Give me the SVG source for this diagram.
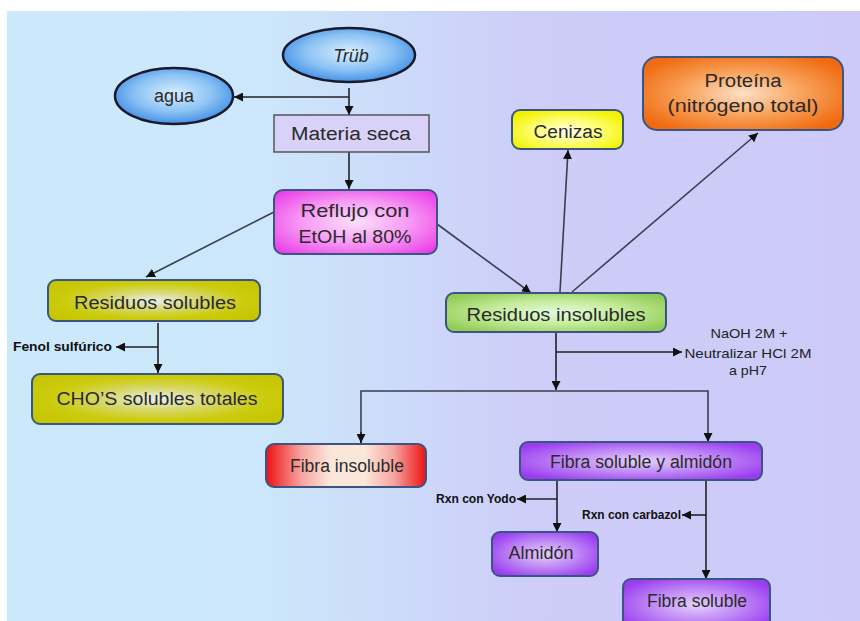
<svg xmlns="http://www.w3.org/2000/svg" width="860" height="621" viewBox="0 0 860 621">
  <defs>
    <linearGradient id="bg" x1="0" y1="0" x2="1" y2="0">
      <stop offset="0" stop-color="#cce9fb"/>
      <stop offset="0.3" stop-color="#cce7fb"/>
      <stop offset="0.62" stop-color="#cdcdf8"/>
      <stop offset="1" stop-color="#cdcaf8"/>
    </linearGradient>
    <radialGradient id="gBlue" cx="0.5" cy="0.45" r="0.6">
      <stop offset="0" stop-color="#d8eeff"/>
      <stop offset="0.55" stop-color="#8cc2f4"/>
      <stop offset="1" stop-color="#3486e4"/>
    </radialGradient>
    <radialGradient id="gPink" cx="0.5" cy="0.5" r="0.65">
      <stop offset="0" stop-color="#fbe0fb"/>
      <stop offset="0.5" stop-color="#f79cf5"/>
      <stop offset="1" stop-color="#ea3fe8"/>
    </radialGradient>
    <radialGradient id="gOlive" cx="0.5" cy="0.5" r="0.6">
      <stop offset="0" stop-color="#e6f0ee"/>
      <stop offset="0.35" stop-color="#d8d870"/>
      <stop offset="0.7" stop-color="#cccc10"/>
      <stop offset="1" stop-color="#c6c600"/>
    </radialGradient>
    <radialGradient id="gGreen" cx="0.5" cy="0.5" r="0.6">
      <stop offset="0" stop-color="#e4fae0"/>
      <stop offset="0.5" stop-color="#c4ec9c"/>
      <stop offset="1" stop-color="#94cc58"/>
    </radialGradient>
    <radialGradient id="gYellow" cx="0.5" cy="0.55" r="0.6">
      <stop offset="0" stop-color="#fffff0"/>
      <stop offset="0.45" stop-color="#ffff80"/>
      <stop offset="1" stop-color="#f2f200"/>
    </radialGradient>
    <radialGradient id="gOrange" cx="0.5" cy="0.5" r="0.6">
      <stop offset="0" stop-color="#fce0c8"/>
      <stop offset="0.5" stop-color="#f8a25a"/>
      <stop offset="1" stop-color="#f06a10"/>
    </radialGradient>
    <linearGradient id="gRed" x1="0" y1="0" x2="1" y2="0">
      <stop offset="0" stop-color="#ee1010"/>
      <stop offset="0.22" stop-color="#f6a4a0"/>
      <stop offset="0.4" stop-color="#fbe6da"/>
      <stop offset="0.62" stop-color="#fbe6da"/>
      <stop offset="0.8" stop-color="#f6a4a0"/>
      <stop offset="1" stop-color="#ee1010"/>
    </linearGradient>
    <radialGradient id="gPurple" cx="0.5" cy="0.5" r="0.6">
      <stop offset="0" stop-color="#e4d0fb"/>
      <stop offset="0.5" stop-color="#c08af6"/>
      <stop offset="1" stop-color="#9a3cf0"/>
    </radialGradient>
    <marker id="arr" viewBox="0 0 10 10" refX="10" refY="5" markerWidth="9" markerHeight="9" markerUnits="userSpaceOnUse" orient="auto">
      <path d="M0,0 L10,5 L0,10 Z" fill="#111"/>
    </marker>
    <style>
      .box { stroke: #3a5584; stroke-width: 2; }
      .ell { stroke: #1a1a2a; stroke-width: 2.5; fill: url(#gBlue); }
      .lbl { font-family: "Liberation Sans", Arial, sans-serif; font-size: 18px; fill: #2a2a2a; text-anchor: middle; }
      .note { font-family: "Liberation Sans", Arial, sans-serif; font-size: 12px; font-weight: bold; fill: #111; }
      .note2 { font-family: "Liberation Sans", Arial, sans-serif; font-size: 13px; fill: #222; text-anchor: middle; }
      .ln { stroke: #222; stroke-width: 1.6; fill: none; }
      .lnd { stroke: #3c3c50; stroke-width: 1.6; fill: none; }
    </style>
  </defs>

  <!-- page background -->
  <rect x="0" y="0" width="860" height="621" fill="#ffffff"/>
  <rect x="7" y="11" width="853" height="610" fill="url(#bg)"/>

  <!-- connectors -->
  <g id="connectors">
    <path class="ln" d="M349,88 V115" marker-end="url(#arr)"/>
    <path class="ln" d="M349,97 H234" marker-end="url(#arr)"/>
    <path class="ln" d="M349,152 V189" marker-end="url(#arr)"/>
    <path class="lnd" d="M274,212 L146,277" marker-end="url(#arr)"/>
    <path class="lnd" d="M437,224 L531,293" marker-end="url(#arr)"/>
    <path class="ln" d="M158,323 V373" marker-end="url(#arr)"/>
    <path class="ln" d="M158,347 H116" marker-end="url(#arr)"/>
    <path class="lnd" d="M560,292 L568,150" marker-end="url(#arr)"/>
    <path class="lnd" d="M572,292 L758,133" marker-end="url(#arr)"/>
    <path class="ln" d="M556,333 V390" marker-end="url(#arr)"/>
    <path class="ln" d="M556,352 H682" marker-end="url(#arr)"/>
    <path class="lnd" d="M361,443 V391 H708 V442" marker-end="url(#arr)"/>
    <path class="ln" d="M361,432 V443" marker-end="url(#arr)"/>
    <path class="ln" d="M557,481 V532" marker-end="url(#arr)"/>
    <path class="ln" d="M557,499 H517" marker-end="url(#arr)"/>
    <path class="ln" d="M706,481 V579" marker-end="url(#arr)"/>
    <path class="ln" d="M706,515 H682" marker-end="url(#arr)"/>
  </g>

  <g id="trub">
    <ellipse class="ell" cx="349" cy="55" rx="66" ry="27"/>
    <text class="lbl" x="351" y="62" font-style="italic">Trüb</text>
  </g>

  <g id="agua">
    <ellipse class="ell" cx="174" cy="96" rx="59" ry="28"/>
    <text class="lbl" x="174" y="102">agua</text>
  </g>

  <g id="materia-seca">
    <rect x="274" y="115" width="155" height="37" fill="#d8d2f8" stroke="#555" stroke-width="1.5"/>
    <text class="lbl" x="351" y="140" textLength="120" lengthAdjust="spacingAndGlyphs">Materia seca</text>
  </g>

  <g id="reflujo">
    <rect class="box" x="274" y="190" width="163" height="64" rx="9" fill="url(#gPink)" stroke="#4a5aa8"/>
    <text class="lbl" x="355" y="217" textLength="109" lengthAdjust="spacingAndGlyphs">Reflujo con</text>
    <text class="lbl" x="355" y="243" textLength="113" lengthAdjust="spacingAndGlyphs">EtOH al 80%</text>
  </g>

  <g id="residuos-solubles">
    <rect class="box" x="48" y="280" width="212" height="41" rx="8" fill="url(#gOlive)"/>
    <text class="lbl" x="155" y="309" textLength="162" lengthAdjust="spacingAndGlyphs">Residuos solubles</text>
  </g>

  <text class="note" x="13" y="351" textLength="99" lengthAdjust="spacingAndGlyphs">Fenol sulfúrico</text>

  <g id="chos-solubles">
    <rect class="box" x="32" y="374" width="251" height="50" rx="8" fill="url(#gOlive)"/>
    <text class="lbl" x="157" y="405" font-size="20" textLength="201" lengthAdjust="spacingAndGlyphs">CHO’S solubles totales</text>
  </g>

  <g id="cenizas">
    <rect class="box" x="512" y="110" width="111" height="39" rx="8" fill="url(#gYellow)"/>
    <text class="lbl" x="568" y="138" textLength="69" lengthAdjust="spacingAndGlyphs">Cenizas</text>
  </g>

  <g id="proteina">
    <rect class="box" x="643" y="57" width="200" height="73" rx="14" fill="url(#gOrange)"/>
    <text class="lbl" x="743" y="87" textLength="77" lengthAdjust="spacingAndGlyphs">Proteína</text>
    <text class="lbl" x="743" y="112" textLength="151" lengthAdjust="spacingAndGlyphs">(nitrógeno total)</text>
  </g>

  <g id="residuos-insolubles">
    <rect class="box" x="446" y="293" width="220" height="39" rx="8" fill="url(#gGreen)"/>
    <text class="lbl" x="556" y="321" textLength="179" lengthAdjust="spacingAndGlyphs">Residuos insolubles</text>
  </g>

  <g id="naoh-note">
    <text class="note2" x="749" y="338" textLength="77" lengthAdjust="spacingAndGlyphs">NaOH 2M +</text>
    <text class="note2" x="748" y="358" textLength="127" lengthAdjust="spacingAndGlyphs">Neutralizar HCl 2M</text>
    <text class="note2" x="748" y="375" textLength="38" lengthAdjust="spacingAndGlyphs">a pH7</text>
  </g>

  <g id="fibra-insoluble">
    <rect class="box" x="266" y="444" width="160" height="43" rx="8" fill="url(#gRed)"/>
    <text class="lbl" x="347" y="472" textLength="114" lengthAdjust="spacingAndGlyphs">Fibra insoluble</text>
  </g>

  <g id="fibra-soluble-almidon">
    <rect class="box" x="520" y="442" width="242" height="38" rx="8" fill="url(#gPurple)"/>
    <text class="lbl" x="641" y="468" textLength="182" lengthAdjust="spacingAndGlyphs">Fibra soluble y almidón</text>
  </g>

  <text class="note" x="436" y="503" textLength="80" lengthAdjust="spacingAndGlyphs">Rxn con Yodo</text>
  <text class="note" x="582" y="519" textLength="99" lengthAdjust="spacingAndGlyphs">Rxn con carbazol</text>

  <g id="almidon">
    <rect class="box" x="492" y="532" width="106" height="44" rx="8" fill="url(#gPurple)"/>
    <text class="lbl" x="541" y="559" textLength="65" lengthAdjust="spacingAndGlyphs">Almidón</text>
  </g>

  <g id="fibra-soluble">
    <rect class="box" x="623" y="579" width="147" height="52" rx="8" fill="url(#gPurple)"/>
    <text class="lbl" x="697" y="607" textLength="100" lengthAdjust="spacingAndGlyphs">Fibra soluble</text>
  </g>
</svg>
